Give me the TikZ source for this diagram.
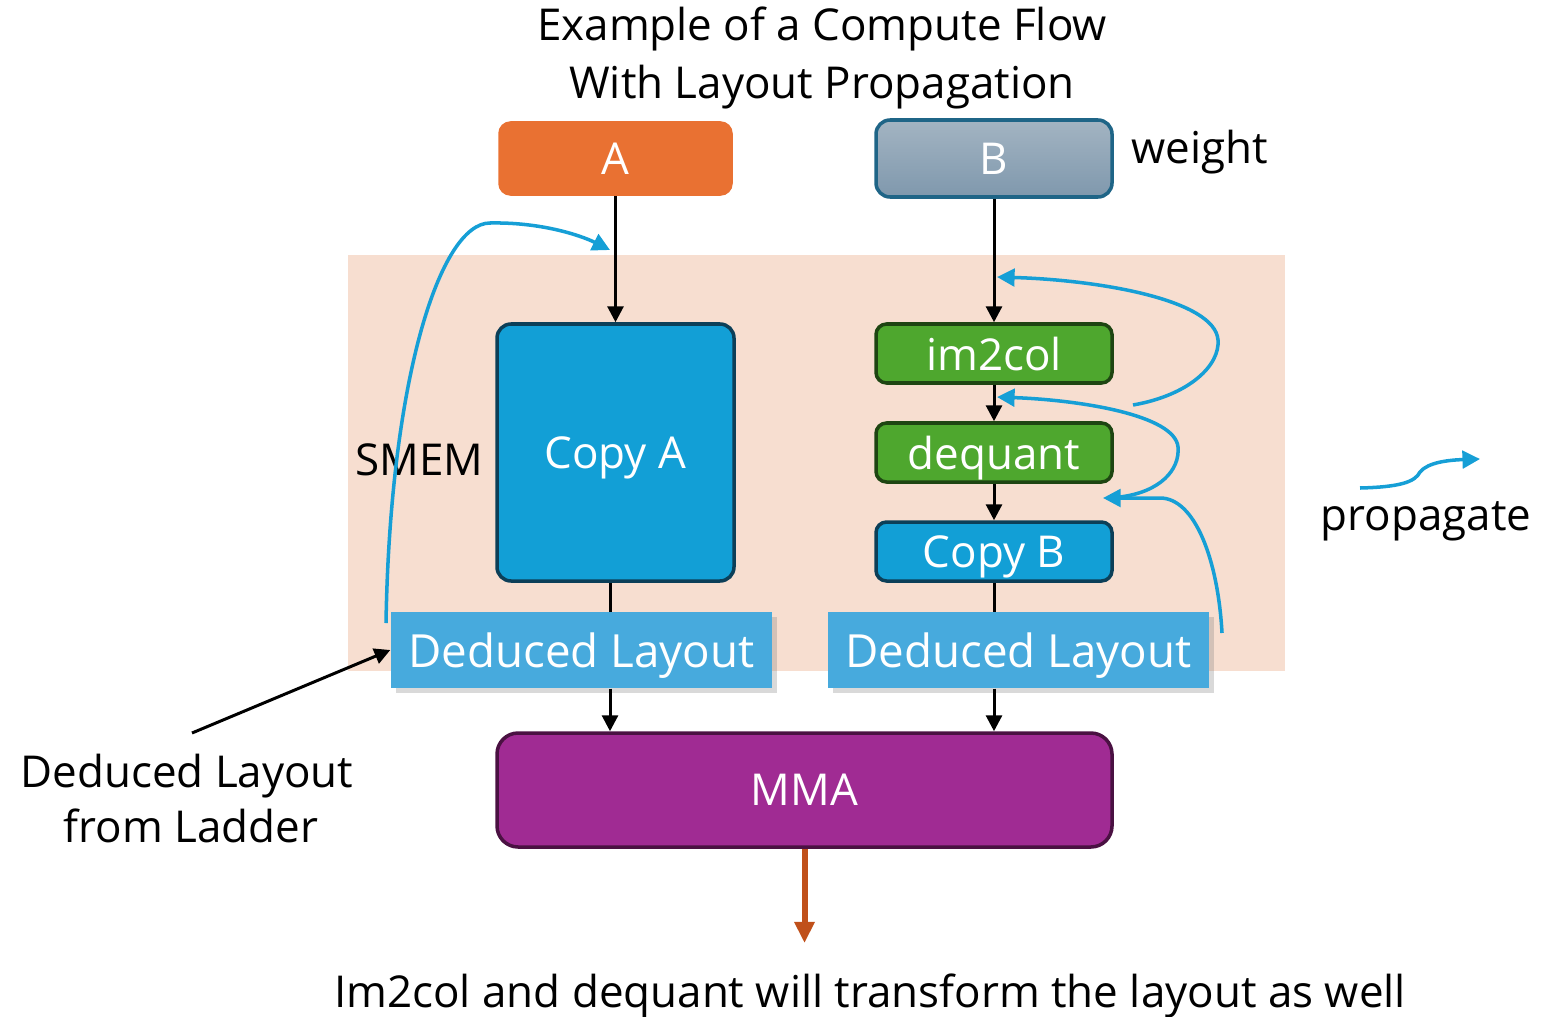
\documentclass[tikz,border=0pt]{standalone}
\usepackage{fontspec}
\setmainfont{Open Sans}
\usetikzlibrary{arrows.meta,shadows}

\definecolor{smembg}{HTML}{F7DED0}
\definecolor{aorange}{HTML}{E97132}
\definecolor{btop}{HTML}{A3B4C2}
\definecolor{bbot}{HTML}{7F98AD}
\definecolor{bborder}{HTML}{1F6587}
\definecolor{copyblue}{HTML}{129FD6}
\definecolor{copyborder}{HTML}{0C3F58}
\definecolor{opgreen}{HTML}{4EA72E}
\definecolor{opborder}{HTML}{1E4512}
\definecolor{dlblue}{HTML}{47AADD}
\definecolor{mmapurple}{HTML}{A02B93}
\definecolor{mmaborder}{HTML}{4A1142}
\definecolor{outorange}{HTML}{C0501A}
\definecolor{propblue}{HTML}{169FD6}

\begin{document}
\begin{tikzpicture}[
    font=\fontsize{12.5}{15}\selectfont,
    box/.style={draw, line width=1pt, inner sep=0pt, text=white, text depth=0pt, rounded corners=3pt},
    opbox/.style={box, fill=opgreen, draw=opborder, minimum width=2.36cm, minimum height=0.59cm},
    layoutbox/.style={fill=dlblue, inner sep=0pt, text=white, text depth=0pt, minimum width=3.81cm, minimum height=0.76cm,
        drop shadow={opacity=0.3, shadow xshift=1.5pt, shadow yshift=-1.5pt}},
    flow/.style={line width=0.85pt, -{Triangle[width=4.5pt,length=4.5pt]}},
    prop/.style={draw=propblue, line width=1pt, -{Triangle[width=5pt,length=5pt]}}
]
    \useasboundingbox (0,0) rectangle (15.42,-10.16);

    % Title
    \node[anchor=base] (title1) at (8.22,-0.40) {Example of a Compute Flow};
    \node[anchor=base] (title2) at (8.22,-0.98) {With Layout Propagation};

    % Shared memory region
    \fill[smembg] (3.48,-2.55) rectangle (12.85,-6.71);
    \node[anchor=base west] (smem) at (3.43,-4.75) {SMEM};

    % Inputs
    \node[box, fill=aorange, draw=aorange, minimum width=2.31cm, minimum height=0.71cm] (A) at (6.155,-1.585) {A};
    \node[box, top color=btop, bottom color=bbot, draw=bborder, rounded corners=4pt,
        minimum width=2.36cm, minimum height=0.77cm] (B) at (9.94,-1.585) {B};
    \node[anchor=base west] (weight) at (11.19,-1.63) {weight};

    % Operators
    \node[box, fill=copyblue, draw=copyborder, rounded corners=4pt,
        minimum width=2.37cm, minimum height=2.57cm] (copyA) at (6.155,-4.525) {Copy A};
    \node[opbox] (im2col) at (9.94,-3.535) {im2col};
    \node[opbox] (dequant) at (9.94,-4.525) {dequant};
    \node[box, fill=copyblue, draw=copyborder, minimum width=2.36cm, minimum height=0.59cm] (copyB) at (9.94,-5.515) {Copy B};

    % Flow arrows
    \coordinate (colA) at (6.10,0);
    \draw[flow] (A) -- (copyA);
    \draw[flow] (B) -- (im2col);
    \draw[flow] (im2col) -- (dequant);
    \draw[flow] (dequant) -- (copyB);
    \draw[line width=0.85pt] (colA |- copyA.south) -- (colA |- 0,-6.12);
    \draw[line width=0.85pt] (copyB) -- (copyB |- 0,-6.12);

    % Deduced layouts
    \node[layoutbox] (layoutA) at (5.815,-6.50) {\fontsize{13}{15}\selectfont Deduced Layout};
    \node[layoutbox] (layoutB) at (10.185,-6.50) {\fontsize{13}{15}\selectfont Deduced Layout};

    % MMA
    \node[box, fill=mmapurple, draw=mmaborder, rounded corners=6pt,
        minimum width=6.15cm, minimum height=1.14cm] (mma) at (8.045,-7.90) {MMA};
    \draw[flow] (colA |- layoutA.south) -- (colA |- mma.north);
    \draw[flow] (copyB |- layoutB.south) -- (copyB |- mma.north);

    % Output
    \coordinate (outend) at (8.045,-9.43);
    \draw[draw=outorange, line width=1.7pt, -{Triangle[width=5.5pt,length=6pt]}] (mma) -- (outend);
    \node[anchor=base] (note) at (8.70,-10.07) {Im2col and dequant will transform the layout as well};

    % Ladder caption
    \node[anchor=base] (cap1) at (1.87,-7.87) {Deduced Layout};
    \node[anchor=base] (cap2) at (1.91,-8.42) {from Ladder};
    \coordinate (ladderpt) at (1.92,-7.33);
    \draw[flow] (ladderpt) -- (layoutA.west);

    % Propagation curves
    \coordinate (p1) at (3.86,-6.23);
    \coordinate (t1) at (6.10,-2.50);
    \draw[prop] (p1) .. controls (3.90,-3.80) and (4.40,-2.23) .. (4.90,-2.23)
        .. controls (5.40,-2.22) and (5.80,-2.35) .. (t1);
    \coordinate (p2) at (11.33,-4.05);
    \coordinate (t2) at (9.97,-2.77);
    \draw[prop] (p2) .. controls (11.90,-3.95) and (12.20,-3.65) .. (12.18,-3.40)
        .. controls (12.15,-3.00) and (11.00,-2.80) .. (t2);
    \coordinate (p3) at (11.20,-4.97);
    \coordinate (t3) at (9.97,-3.97);
    \draw[prop] (p3) .. controls (11.60,-4.92) and (11.80,-4.70) .. (11.78,-4.47)
        .. controls (11.75,-4.15) and (10.80,-4.00) .. (t3);
    \coordinate (p4) at (12.22,-6.33);
    \coordinate (t4) at (11.03,-4.98);
    \draw[prop] (p4) .. controls (12.18,-5.60) and (11.95,-4.98) .. (11.60,-4.98) -- (t4);

    % Legend
    \coordinate (lg1) at (13.60,-4.88);
    \coordinate (lg2) at (14.80,-4.59);
    \draw[prop] (lg1) .. controls (14.00,-4.87) and (14.15,-4.82) .. (14.20,-4.72)
        .. controls (14.28,-4.62) and (14.50,-4.60) .. (lg2);
    \node[anchor=base] (legend) at (14.26,-5.30) {propagate};
\end{tikzpicture}
\end{document}
